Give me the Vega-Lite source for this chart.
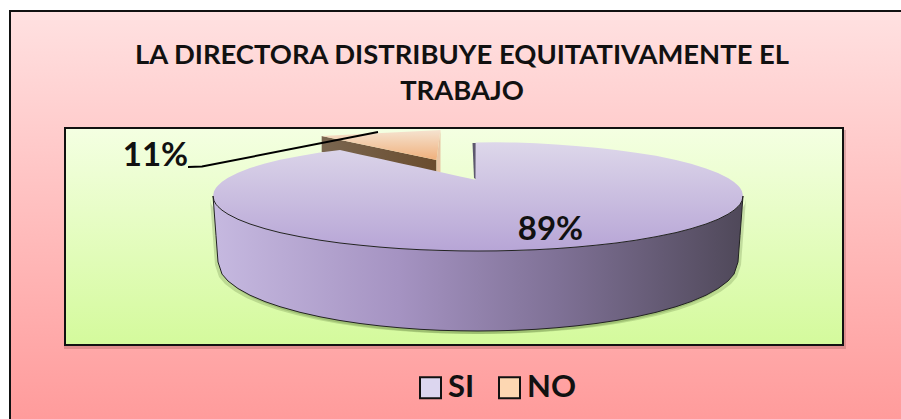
{"$schema":"https://vega.github.io/schema/vega-lite/v6.json","width":901,"height":419,"autosize":"none","padding":0,"background":"#ffffff","config":{"view":{"stroke":null}},
"title":{"text":["LA DIRECTORA DISTRIBUYE EQUITATIVAMENTE EL","TRABAJO"],"anchor":"middle","frame":"group","font":"Lato","fontSize":27.4,"fontWeight":"bold","color":"#111111","lineHeight":36,"dx":11.5,"dy":105,"offset":0,"baseline":"top"},
"datasets":{
"slices":[{"answer":"SI","share":0.89},{"answer":"NO","share":0.11}],
"frame":[{"x":10,"x2":915,"y":11,"y2":421}],
"plotShadow":[{"x":64,"x2":846,"y":130,"y2":349}],
"plot":[{"x":65,"x2":843,"y":128,"y2":345}],
"leader":[{"x":188,"y":167},{"x":202,"y":166.5},{"x":378,"y":132}],
"siSliver":[{"x":472.5,"y":143,"y2":143},{"x":474,"y":143,"y2":178},{"x":477,"y":143,"y2":180}],
"noWall":[{"x":321.7,"y":136,"y2":152},{"x":436.5,"y":160,"y2":172}],
"noSide":[{"x":436.5,"y":160,"y2":172},{"x":440.5,"y":130,"y2":172}],
"noTop":[{"x":321.7,"y":136,"y2":136},{"x":436.5,"y":130.3,"y2":160},{"x":440.5,"y":130,"y2":130}],
"siTop":[{"x":213,"y":196,"y2":196},{"x":214,"y":191.2,"y2":200.8},{"x":216,"y":187.8,"y2":204.3},{"x":218,"y":185.4,"y2":206.6},{"x":222,"y":181.8,"y2":210.2},{"x":228,"y":177.8,"y2":214.2},{"x":238,"y":172.7,"y2":219.3},{"x":250,"y":168,"y2":224},{"x":265,"y":163.5,"y2":228.7},{"x":280,"y":159.8,"y2":232.6},{"x":300,"y":156,"y2":236.7},{"x":320,"y":152.5,"y2":240.2},{"x":340,"y":150,"y2":243},{"x":360,"y":154.4,"y2":245.2},{"x":380,"y":158.8,"y2":247.1},{"x":400,"y":163.2,"y2":248.6},{"x":420,"y":167.6,"y2":249.7},{"x":440,"y":172,"y2":250.4},{"x":460,"y":176.4,"y2":250.9},{"x":475.5,"y":179.8,"y2":251},{"x":475.6,"y":142.5,"y2":251},{"x":496,"y":142.2,"y2":250.9},{"x":516,"y":142.6,"y2":250.4},{"x":536,"y":143.3,"y2":249.7},{"x":556,"y":144.4,"y2":248.6},{"x":576,"y":145.9,"y2":247.1},{"x":596,"y":147.8,"y2":245.2},{"x":616,"y":150,"y2":243},{"x":636,"y":152.8,"y2":240.2},{"x":656,"y":155.8,"y2":236.7},{"x":676,"y":160,"y2":232.6},{"x":691,"y":163.7,"y2":228.7},{"x":706,"y":168.5,"y2":224},{"x":718,"y":173,"y2":219.3},{"x":728,"y":178,"y2":214.2},{"x":734,"y":182,"y2":210.2},{"x":738,"y":185.4,"y2":206.6},{"x":740,"y":187.8,"y2":204.3},{"x":742,"y":191.2,"y2":200.8},{"x":743,"y":196,"y2":196}],
"siWall":[{"x":213,"y":196,"y2":196},{"x":214,"y":200.8,"y2":209},{"x":216,"y":204.3,"y2":235.6},{"x":218,"y":206.6,"y2":262},{"x":222,"y":210.2,"y2":274.1},{"x":228,"y":214.2,"y2":281},{"x":238,"y":219.3,"y2":288.5},{"x":250,"y":224,"y2":295.2},{"x":265,"y":228.7,"y2":301.6},{"x":280,"y":232.6,"y2":306.7},{"x":300,"y":236.7,"y2":312.3},{"x":320,"y":240.2,"y2":316.8},{"x":340,"y":243,"y2":320.5},{"x":360,"y":245.2,"y2":323.5},{"x":380,"y":247.1,"y2":325.9},{"x":400,"y":248.6,"y2":327.8},{"x":420,"y":249.7,"y2":329.3},{"x":440,"y":250.4,"y2":330.3},{"x":460,"y":250.9,"y2":330.8},{"x":478,"y":251,"y2":331},{"x":496,"y":250.9,"y2":330.8},{"x":516,"y":250.4,"y2":330.3},{"x":536,"y":249.7,"y2":329.3},{"x":556,"y":248.6,"y2":327.8},{"x":576,"y":247.1,"y2":325.9},{"x":596,"y":245.2,"y2":323.5},{"x":616,"y":243,"y2":320.5},{"x":636,"y":240.2,"y2":316.8},{"x":656,"y":236.7,"y2":312.3},{"x":676,"y":232.6,"y2":306.7},{"x":691,"y":228.7,"y2":301.6},{"x":706,"y":224,"y2":295.2},{"x":718,"y":219.3,"y2":288.5},{"x":728,"y":214.2,"y2":281},{"x":734,"y":210.2,"y2":274.1},{"x":738,"y":206.6,"y2":262},{"x":740,"y":204.3,"y2":235.6},{"x":742,"y":200.8,"y2":209},{"x":743,"y":196,"y2":196}]
},
"layer":[
{"data":{"name":"frame"},"mark":{"type":"rect","fill":{"gradient":"linear","x1":0,"y1":0,"x2":0,"y2":1,"stops":[{"offset":0,"color":"#ffe1e1"},{"offset":1,"color":"#ff9b9b"}]},"stroke":"#111111","strokeWidth":2},"encoding":{"x":{"field":"x","type":"quantitative","axis":null,"scale":{"domain":[0,901],"nice":false,"zero":false}},"y":{"field":"y","type":"quantitative","axis":null,"scale":{"domain":[419,0],"nice":false,"zero":false}},"x2":{"field":"x2"},"y2":{"field":"y2"}}},
{"encoding":{"x":{"field":"x","type":"quantitative","axis":null,"scale":{"domain":[0,901],"nice":false,"zero":false}},"y":{"field":"y","type":"quantitative","axis":null,"scale":{"domain":[419,0],"nice":false,"zero":false}}},
"layer":[
{"data":{"name":"plotShadow"},"mark":{"type":"rect","fill":"#7a3a3a","opacity":0.25},"encoding":{"x2":{"field":"x2"},"y2":{"field":"y2"}}},
{"data":{"name":"plot"},"mark":{"type":"rect","fill":{"gradient":"linear","x1":0,"y1":0,"x2":0,"y2":1,"stops":[{"offset":0,"color":"#f4ffe2"},{"offset":1,"color":"#d4fa9c"}]},"stroke":"#111111","strokeWidth":2},"encoding":{"x2":{"field":"x2"},"y2":{"field":"y2"}}},
{"data":{"name":"siWall"},"mark":{"type":"area","color":"#3c5a20","opacity":0.2,"xOffset":-3,"yOffset":3,"y2Offset":3},"encoding":{"y2":{"field":"y2"}}},
{"data":{"name":"siWall"},"mark":{"type":"area","color":"#3c5a20","opacity":0.2,"xOffset":3,"yOffset":3,"y2Offset":3},"encoding":{"y2":{"field":"y2"}}},
{"data":{"name":"noWall"},"mark":{"type":"area","fill":{"gradient":"linear","x1":0,"y1":0,"x2":1,"y2":0,"stops":[{"offset":0,"color":"#7a6650"},{"offset":1,"color":"#6a4c2e"}]}},"encoding":{"y2":{"field":"y2"}}},
{"data":{"name":"noSide"},"mark":{"type":"area","color":"#e8c5a4"},"encoding":{"y2":{"field":"y2"}}},
{"data":{"name":"noTop"},"mark":{"type":"area","fill":{"gradient":"linear","x1":0,"y1":0,"x2":0,"y2":1,"stops":[{"offset":0,"color":"#f5e3d0"},{"offset":1,"color":"#f0b07c"}]}},"encoding":{"y2":{"field":"y2"}}},
{"data":{"name":"siSliver"},"mark":{"type":"area","color":"#5d586e"},"encoding":{"y2":{"field":"y2"}}},
{"data":{"name":"siWall"},"mark":{"type":"area","fill":{"gradient":"linear","x1":0,"y1":0,"x2":1,"y2":0,"stops":[{"offset":0,"color":"#c6b9e0"},{"offset":0.35,"color":"#a593c2"},{"offset":0.65,"color":"#7f7196"},{"offset":1,"color":"#4f4859"}]}},"encoding":{"y2":{"field":"y2"}}},
{"data":{"name":"siTop"},"mark":{"type":"area","fill":{"gradient":"linear","x1":0,"y1":0,"x2":0,"y2":1,"stops":[{"offset":0,"color":"#ddd7ea"},{"offset":1,"color":"#b7a5d6"}]}},"encoding":{"y2":{"field":"y2"}}},
{"data":{"name":"siWall"},"mark":{"type":"line","color":"#222222","strokeWidth":1},"encoding":{}},
{"data":{"name":"siWall"},"mark":{"type":"line","color":"#222222","strokeWidth":1},"encoding":{"y":{"field":"y2","type":"quantitative"}}},
{"data":{"name":"leader"},"mark":{"type":"line","color":"#000000","strokeWidth":2},"encoding":{}}
]},
{"data":{"name":"slices"},"transform":[{"filter":"datum.answer === 'SI'"}],"mark":{"type":"text","font":"Lato","fontSize":33,"fontWeight":"bold","color":"#111111"},"encoding":{"x":{"datum":550.5,"type":"quantitative"},"y":{"datum":230,"type":"quantitative"},"text":{"field":"share","type":"quantitative","format":".0%"}}},
{"data":{"name":"slices"},"transform":[{"filter":"datum.answer === 'NO'"}],"mark":{"type":"text","font":"Lato","fontSize":33,"fontWeight":"bold","color":"#111111"},"encoding":{"x":{"datum":155.5,"type":"quantitative"},"y":{"datum":156,"type":"quantitative"},"text":{"field":"share","type":"quantitative","format":".0%"}}},
{"data":{"name":"slices"},"mark":{"type":"point","filled":true,"size":0},"encoding":{"x":{"datum":450,"type":"quantitative"},"y":{"datum":388,"type":"quantitative"},"color":{"field":"answer","type":"nominal","sort":null,"scale":{"domain":["SI","NO"],"range":["#dcd6ef","#fdd7b2"]},"legend":{"title":null,"orient":"none","legendX":415,"legendY":372,"direction":"horizontal","columns":2,"symbolType":"square","symbolSize":441,"symbolStrokeColor":"#111111","symbolStrokeWidth":2,"symbolOpacity":1,"labelFont":"Lato","labelFontSize":31,"labelFontWeight":"bold","labelColor":"#111111","labelOffset":2,"columnPadding":19,"labelLimit":100}}}}
]}
